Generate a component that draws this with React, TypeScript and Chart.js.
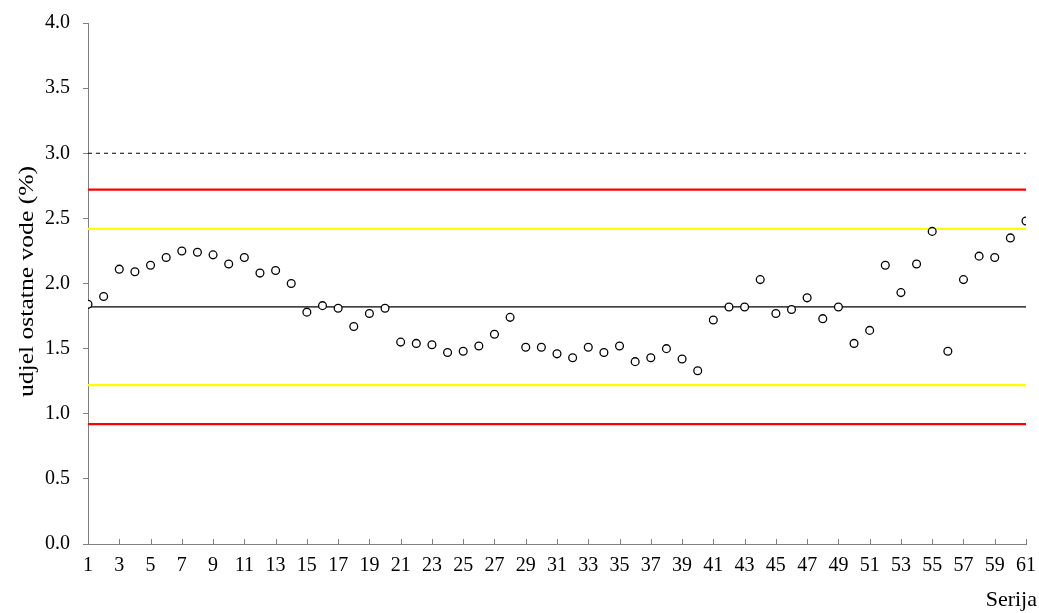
import React, { useEffect, useRef } from "react";
import { Chart, registerables } from "chart.js";

Chart.register(...registerables);

const seriesValues: number[] = [
  1.84, 1.9, 2.11, 2.09, 2.14, 2.2, 2.25, 2.24, 2.22, 2.15,
  2.2, 2.08, 2.1, 2.0, 1.78, 1.83, 1.81, 1.67, 1.77, 1.81,
  1.55, 1.54, 1.53, 1.47, 1.48, 1.52, 1.61, 1.74, 1.51, 1.51,
  1.46, 1.43, 1.51, 1.47, 1.52, 1.4, 1.43, 1.5, 1.42, 1.33,
  1.72, 1.82, 1.82, 2.03, 1.77, 1.8, 1.89, 1.73, 1.82, 1.54,
  1.64, 2.14, 1.93, 2.15, 2.4, 1.48, 2.03, 2.21, 2.2, 2.35,
  2.48,
];
const categories: number[] = seriesValues.map((_, i) => i + 1);

const specLimit = 3.0;
const centerLine = 1.82;
const warnLower = 1.22;
const warnUpper = 2.42;
const actionLower = 0.92;
const actionUpper = 2.72;

const yTickMin = 0;
const yTickMax = 4;
const yTickStep = 0.5;
const xTickStep = 2;

const yTitle = "udjel ostatne vode (%)";
const xTitle = "Serija";

const FONT = "'Liberation Serif', 'Times New Roman', serif";

const hLine = (y: number, color: string, width: number, dash: number[] = []) => ({
  type: "line" as const,
  data: [
    { x: categories[0], y },
    { x: categories[categories.length - 1], y },
  ],
  borderColor: color,
  borderWidth: width,
  borderDash: dash,
  pointRadius: 0,
  pointHoverRadius: 0,
  fill: false,
});

const overlayPlugin = {
  id: "overlay",
  afterDraw(chart: any) {
    const ctx = chart.ctx;
    const area = chart.chartArea;
    const xs = chart.scales.x;
    ctx.save();
    // inward x-axis tick marks
    ctx.strokeStyle = "#808080";
    ctx.lineWidth = 1;
    xs.ticks.forEach((t: any) => {
      const px = Math.round(xs.getPixelForValue(t.value)) + 0.5;
      ctx.beginPath();
      ctx.moveTo(px, area.bottom);
      ctx.lineTo(px, area.bottom - 5);
      ctx.stroke();
    });
    // axis titles
    ctx.fillStyle = "#000";
    ctx.font = `22px ${FONT}`;
    ctx.textAlign = "right";
    ctx.textBaseline = "alphabetic";
    ctx.fillText(xTitle, 1037, 606);
    ctx.translate(33, (area.top + area.bottom) / 2 - 2);
    ctx.rotate(-Math.PI / 2);
    ctx.scale(1.22, 1);
    ctx.font = `21px ${FONT}`;
    ctx.textAlign = "center";
    ctx.fillText(yTitle, 0, 0);
    ctx.restore();
  },
};

export default function App() {
  const ref = useRef<HTMLCanvasElement | null>(null);

  useEffect(() => {
    if (!ref.current) return;
    const chart = new Chart(ref.current, {
      type: "scatter",
      data: {
        datasets: [
          {
            type: "scatter",
            data: categories.map((c, i) => ({ x: c, y: seriesValues[i] })),
            pointStyle: "circle",
            pointRadius: 3.9,
            pointBorderWidth: 1.3,
            borderColor: "#000",
            backgroundColor: "#fff",
          } as any,
          hLine(specLimit, "#000", 1, [4, 4]),
          hLine(actionUpper, "#ff0000", 2.2),
          hLine(warnUpper, "#ffff00", 2.2),
          hLine(centerLine, "#000", 1.2),
          hLine(warnLower, "#ffff00", 2.2),
          hLine(actionLower, "#ff0000", 2.2),
        ],
      },
      options: {
        animation: false,
        responsive: true,
        maintainAspectRatio: false,
        layout: { padding: { left: 0, top: 23, right: 13, bottom: 0 } },
        plugins: {
          legend: { display: false },
          tooltip: { enabled: false },
          title: { display: false },
        },
        scales: {
          x: {
            type: "linear",
            min: categories[0],
            max: categories[categories.length - 1],
            grid: { display: false, drawTicks: false },
            border: { display: true, color: "#808080", width: 1 },
            ticks: {
              stepSize: xTickStep,
              autoSkip: false,
              maxRotation: 0,
              padding: 10,
              color: "#000",
              font: { family: FONT, size: 20 },
              callback: (v: any) => String(v),
            },
            afterFit: (s: any) => {
              s.height = 69;
              s.paddingLeft = 0;
              s.paddingRight = 0;
            },
          },
          y: {
            type: "linear",
            min: yTickMin,
            max: yTickMax,
            grid: {
              display: true,
              drawOnChartArea: false,
              drawTicks: true,
              tickLength: 5,
              color: "#808080",
            },
            border: { display: true, color: "#808080", width: 1 },
            ticks: {
              stepSize: yTickStep,
              padding: 13,
              color: "#000",
              font: { family: FONT, size: 20 },
              callback: (v: any) => Number(v).toFixed(1),
            },
            afterFit: (s: any) => {
              s.width = 88;
              s.paddingTop = 0;
              s.paddingBottom = 0;
            },
          },
        },
      } as any,
      plugins: [overlayPlugin],
    });
    return () => chart.destroy();
  }, []);

  return (
    <div
      style={{
        position: "fixed",
        left: 0,
        top: 0,
        width: 1039,
        height: 613,
        background: "#fff",
      }}
    >
      <canvas ref={ref} />
    </div>
  );
}
